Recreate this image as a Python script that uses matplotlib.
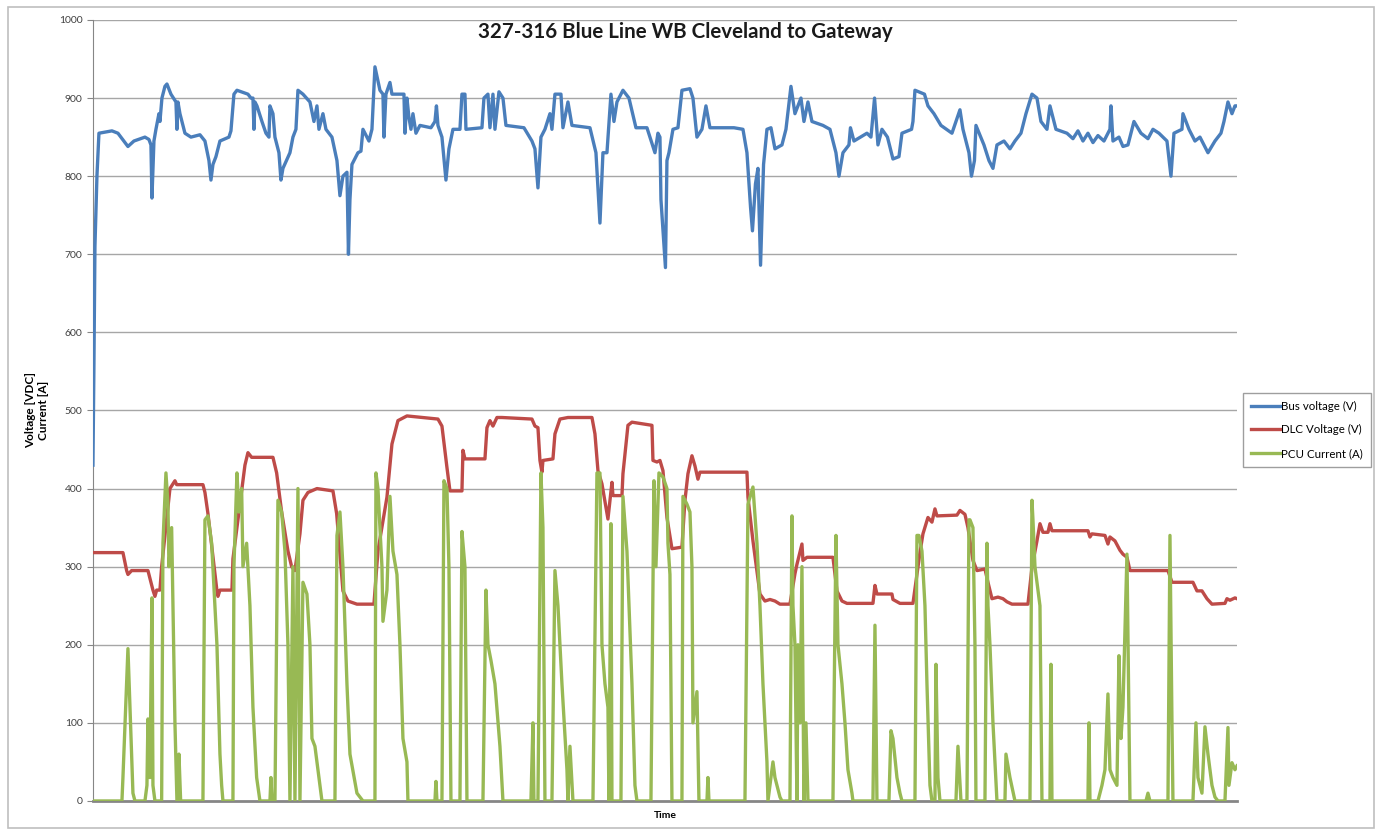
import matplotlib
matplotlib.use("Agg")
import matplotlib.pyplot as plt
from matplotlib.patches import Rectangle

plt.rcParams['font.family'] = ['Lato', 'DejaVu Sans']

# time axis in samples
bus_t = [0, 1, 2, 4, 6, 19, 25, 35, 41, 52, 56, 58, 59, 61, 63, 66, 67, 69, 72, 74, 78, 83, 84, 85,
         87, 89, 92, 98, 107, 112, 116, 118, 120, 123, 127, 136, 138, 141, 144, 155, 158, 160, 161,
         162, 164, 169, 173, 176, 177, 180, 182, 186, 188, 190, 197, 200, 203, 205, 210, 217, 221,
         224, 226, 230, 233, 239, 244, 247, 250, 254, 255.5, 257, 259, 265, 268, 270, 276, 279, 282,
         287, 290, 291, 293, 297, 299, 311, 312, 314, 316, 318, 320, 323, 327, 338, 342, 343.5, 345,
         349, 353, 356, 360, 367, 369, 372, 373, 389, 391, 395, 397, 400, 402, 406, 410, 413, 431,
         439, 442, 445, 448, 452, 457, 459, 462, 468, 470, 475, 479, 497, 503, 507, 510, 514, 518,
         521, 524, 530, 536, 543, 554, 562, 565, 567, 568, 572.5, 574, 576, 580, 585, 589, 597, 600,
         604, 609, 613, 617, 641, 650, 654, 657.6, 659.5, 662.5, 665, 667.6, 670.6, 674, 678, 682,
         689, 693, 698, 702, 708, 711, 715, 719, 730, 737, 743, 746, 750, 756, 757.5, 761, 774, 778,
         781.6, 785, 789, 794.5, 800, 806, 809, 818.6, 820, 822, 831.5, 835, 841, 848, 859, 867, 870,
         876, 878.5, 881.5, 883, 891, 896, 900, 904, 911, 917, 922, 928, 933, 939, 944, 948, 954, 957,
         963, 974, 980, 985, 990, 995, 1000, 1005, 1011, 1017, 1018, 1020, 1026, 1030, 1035, 1041,
         1048, 1055, 1060, 1066, 1074, 1078, 1081, 1089, 1090, 1096, 1102, 1107, 1115, 1122, 1128,
         1131, 1135, 1139, 1142, 1144]
bus_v = [430, 560, 710, 800, 855, 858, 855, 838, 845, 850, 847, 840, 772, 845, 860, 880, 870, 900, 915,
         918, 905, 895, 860, 895, 880, 870, 855, 850, 853, 845, 820, 795, 815, 825, 845, 850, 858, 905,
         910, 905, 900, 900, 860, 895, 890, 870, 855, 850, 890, 880, 850, 830, 795, 810, 830, 850, 860,
         910, 905, 895, 870, 890, 860, 880, 860, 850, 820, 775, 800, 805, 700, 770, 815, 830, 832, 860,
         845, 860, 940, 910, 905, 850, 905, 920, 905, 905, 855, 900, 875, 860, 880, 855, 865, 862, 870,
         890, 865, 850, 795, 835, 860, 860, 905, 905, 860, 862, 900, 905, 862, 905, 860, 908, 900, 865,
         862, 845, 835, 785, 850, 860, 880, 860, 905, 905, 862, 895, 865, 862, 830, 740, 830, 830, 905,
         870, 895, 910, 900, 862, 862, 830, 855, 850, 770, 683, 820, 830, 860, 862, 910, 912, 900, 850,
         860, 890, 862, 862, 860, 830, 760, 730, 790, 810, 686, 815, 860, 862, 835, 840, 860, 915, 880,
         900, 870, 895, 870, 865, 860, 830, 800, 830, 840, 862, 845, 855, 850, 900, 840, 860, 850, 822,
         825, 855, 860, 870, 910, 905, 890, 880, 865, 855, 885, 860, 830, 800, 820, 865, 840, 820, 810,
         840, 845, 835, 845, 855, 880, 905, 900, 870, 860, 890, 860, 855, 848, 858, 845, 855, 843, 852,
         845, 860, 890, 845, 850, 838, 840, 870, 855, 848, 860, 855, 845, 800, 855, 860, 880, 860, 845,
         850, 830, 845, 855, 870, 895, 880, 890, 890]

dlc_t = [0, 30, 33.7, 35, 38.7, 55, 57, 60, 62, 63.7, 67, 68.7, 77, 82, 83.7, 110, 112, 115, 124, 125,
         127, 139, 140, 147, 152, 155, 158.7, 180, 183.7, 188.7, 195, 198.7, 202, 207, 210, 215, 224,
         240, 243.7, 250, 255, 264, 281, 285, 294, 299, 305, 314, 345, 349, 354, 357, 369, 370, 372,
         392, 394, 397, 400, 404, 409, 439, 442, 445, 447, 449, 450, 460, 462, 467, 475, 499, 502, 505,
         509, 515, 517, 519, 520, 529, 530, 535, 539, 559, 560, 564, 567, 570, 574, 579, 589, 592, 595,
         599, 602, 605, 607, 654, 655, 660, 667, 672, 677, 682, 687, 697, 702, 704, 709, 710, 714, 740,
         744, 749, 754, 780, 782, 784, 799, 800, 807, 820, 827, 830, 835, 839, 842, 844, 864, 867, 872,
         875, 880, 884, 892, 895, 899, 905, 910, 914, 919, 935, 939, 944, 947, 950, 955, 957, 959, 995,
         997, 999, 1012, 1015, 1017, 1022, 1027, 1030, 1034, 1037, 1075, 1079, 1100, 1104, 1109, 1114,
         1119, 1132, 1134, 1137, 1142, 1144]
dlc_v = [318, 318, 295, 290, 295, 295, 285, 270, 262, 270, 270, 300, 400, 410, 405, 405, 395, 368, 269,
         262, 270, 270, 310, 380, 430, 446, 440, 440, 420, 370, 320, 300, 295, 342, 385, 395, 400, 397,
         368, 269, 256, 252, 252, 320, 389, 457, 487, 493, 489, 480, 427, 397, 397, 449, 438, 438, 478,
         487, 480, 491, 491, 489, 480, 478, 436, 421, 436, 438, 470, 489, 491, 491, 470, 423, 406, 361,
         385, 408, 391, 391, 419, 481, 485, 481, 436, 434, 436, 423, 363, 323, 325, 385, 419, 442, 429,
         412, 421, 421, 389, 333, 265, 256, 258, 256, 252, 252, 291, 303, 329, 308, 312, 312, 269, 256,
         253, 253, 276, 265, 265, 258, 253, 253, 318, 342, 363, 357, 374, 365, 366, 372, 367, 350, 308,
         295, 297, 280, 259, 261, 259, 255, 252, 252, 299, 333, 355, 344, 344, 355, 346, 346, 338, 342,
         340, 329, 338, 333, 321, 316, 312, 295, 295, 280, 280, 269, 269, 259, 252, 253, 259, 257, 260,
         259]

pcu_t = [0, 29, 30, 35, 37, 40, 42, 52, 54, 55, 57, 59, 60, 62, 68.7, 70, 73, 75, 76, 78.7, 80, 82, 84,
         85, 86, 87.7, 110, 112, 115, 118.7, 124, 127, 128.7, 130, 140, 141, 144, 146, 148.7, 150,
         153.7, 157, 160, 163.7, 167, 177, 178, 179, 182, 185, 188.7, 192, 195, 197, 200, 202, 205,
         207, 210, 214, 217, 219, 222, 225, 229, 242, 244, 247, 250, 254, 257, 264, 270, 282, 283, 285,
         289, 290, 294, 297, 300, 304, 307, 310, 314, 315, 342, 343, 344, 349, 351, 354, 356, 358, 367,
         369, 372, 374, 390, 393, 395, 398, 402, 407, 410, 438, 440, 441, 445, 448, 450, 452, 459, 462,
         465, 469, 474, 475, 477, 480, 500, 504, 507, 509, 512, 515, 516, 518, 519, 528, 530, 534, 539,
         542, 544, 558, 561, 563, 566, 570, 574, 575, 577, 579, 589, 590, 594, 597, 599, 600, 604, 606,
         614, 615, 616, 652, 655, 660, 664, 667, 670, 674, 675, 680, 682, 687, 689, 697, 699, 700, 702,
         704, 705, 707, 709, 711, 713, 715, 740, 743, 745, 749, 752, 755, 759, 760, 780, 782, 784, 796,
         798, 800, 804, 807, 809, 822, 824, 826, 829, 832, 834, 837, 839, 842, 843, 845, 847, 863, 865,
         868, 874, 876, 877, 880, 882, 883, 892, 894, 895, 897, 900, 904, 912, 913, 917, 922, 937, 939,
         940, 942, 944, 947, 949, 957, 958, 959, 995, 996, 997, 1005, 1009, 1012, 1015, 1017, 1020,
         1024, 1026, 1028, 1030, 1034, 1037, 1053, 1055, 1057, 1075, 1077, 1079, 1080, 1100, 1103,
         1105, 1109, 1112, 1115, 1119, 1122, 1125, 1132, 1135, 1136, 1139, 1142, 1144]
pcu_a = [0, 0, 30, 195, 120, 10, 0, 0, 20, 105, 30, 260, 20, 0, 0, 330, 420, 380, 300, 350, 250, 100, 0,
         0, 60, 0, 0, 360, 365, 330, 200, 60, 20, 0, 0, 300, 420, 370, 400, 300, 330, 250, 120, 30, 0,
         0, 30, 0, 0, 385, 370, 320, 200, 0, 300, 0, 400, 0, 280, 265, 200, 80, 70, 40, 0, 0, 340, 370,
         300, 150, 60, 10, 0, 0, 420, 400, 300, 230, 270, 390, 320, 290, 200, 80, 50, 0, 0, 25, 0, 0,
         410, 400, 300, 0, 0, 345, 300, 0, 0, 270, 200, 180, 150, 70, 0, 0, 100, 0, 0, 420, 350, 0, 0,
         295, 250, 150, 40, 0, 70, 0, 0, 420, 420, 200, 150, 120, 0, 355, 0, 0, 390, 320, 150, 20, 0, 0,
         410, 300, 420, 415, 400, 330, 290, 0, 0, 390, 380, 370, 300, 100, 140, 0, 0, 30, 0, 0, 380, 402,
         330, 250, 150, 50, 0, 50, 30, 5, 0, 0, 365, 250, 200, 0, 200, 100, 300, 0, 100, 0, 0, 340, 200,
         150, 100, 40, 10, 0, 0, 225, 0, 0, 90, 80, 30, 10, 0, 0, 340, 340, 320, 250, 150, 20, 0, 0, 175,
         30, 0, 0, 70, 0, 0, 360, 360, 350, 200, 0, 0, 330, 250, 200, 100, 0, 0, 60, 30, 0, 0, 385, 360,
         300, 280, 250, 0, 0, 175, 0, 0, 100, 0, 0, 20, 40, 137, 40, 30, 20, 186, 80, 120, 316, 0, 0, 10,
         0, 0, 340, 100, 0, 0, 100, 30, 10, 95, 60, 20, 5, 0, 0, 94, 20, 49, 40, 45]

fig = plt.figure(figsize=(13.81, 8.32), dpi=100)
ax = fig.add_axes([0.0673, 0.0373, 0.8284, 0.9387])

grid_c = '#a6a6a6'
for v in range(100, 1001, 100):
    ax.axhline(v, color=grid_c, lw=1.0, zorder=1)

ax.plot(bus_t, bus_v, color='#4a7ebb', lw=2.4, label='Bus voltage (V)', zorder=3)
ax.plot(dlc_t, dlc_v, color='#be4b48', lw=2.4, label='DLC Voltage (V)', zorder=4)
ax.plot(pcu_t, pcu_a, color='#98b954', lw=2.4, label='PCU Current (A)', zorder=5)

ax.set_xlim(0, 1144)
ax.set_ylim(0, 1000)
ax.set_yticks(range(0, 1001, 100))
ax.set_xticks([])
ax.tick_params(axis='y', labelsize=7.5, colors='#404040', length=4, color='#868686')
for s in ['top', 'right']:
    ax.spines[s].set_visible(False)
ax.spines['left'].set_color('#868686')
ax.spines['bottom'].set_color('#868686')
ax.spines['bottom'].set_linewidth(2)
ax.spines['bottom'].set_zorder(2)

fig.text(0.496, 0.962, '327-316 Blue Line WB Cleveland to Gateway', ha='center', va='center',
         fontsize=14.8, fontweight='bold', color='#1a1a1a')
ax.set_xlabel('Time', fontsize=7.5, fontweight='bold', labelpad=7)
fig.text(0.027, 0.507, 'Voltage [VDC]\nCurrent [A]', rotation=90, ha='center', va='center',
         fontsize=8.5, fontweight='bold', multialignment='center')

leg = fig.legend(loc='upper left', bbox_to_anchor=(0.8962, 0.535), fontsize=8.3, frameon=True,
                 fancybox=False, edgecolor='#868686', handlelength=2.5, labelspacing=1.1,
                 handletextpad=0.1, borderpad=0.7)
leg.get_frame().set_linewidth(1.0)

# outer chart border
fig.patches.append(Rectangle((0.006, 0.005), 0.989, 0.987, transform=fig.transFigure,
                             fill=False, edgecolor='#bfbfbf', lw=1.2))

fig.savefig('out.png', dpi=100)
